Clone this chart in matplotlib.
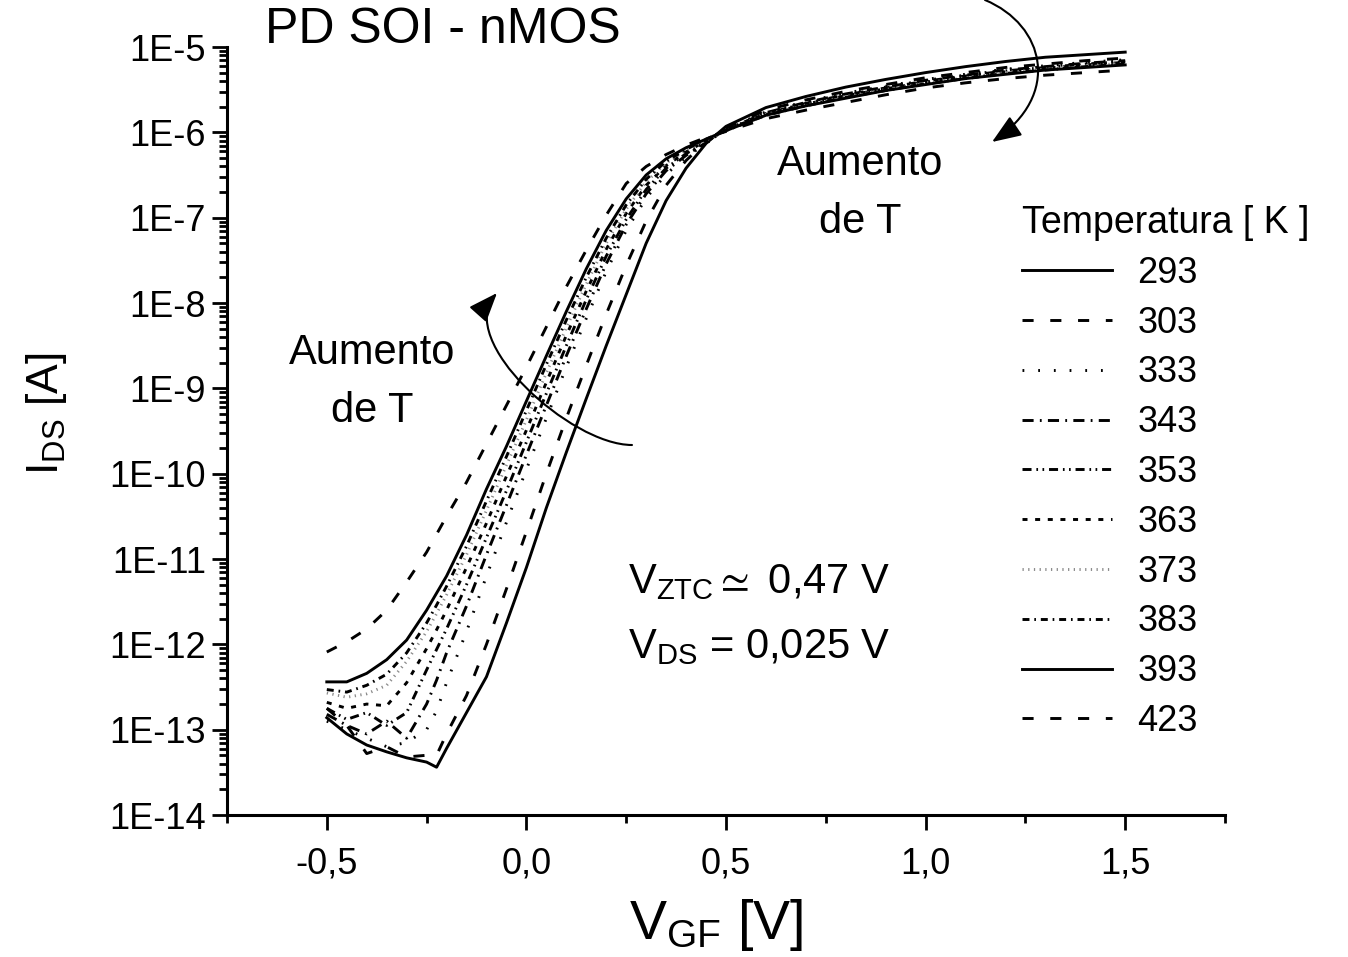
import numpy as np
import matplotlib
matplotlib.use("Agg")
import matplotlib.pyplot as plt
from matplotlib.patches import FancyArrowPatch
from matplotlib.path import Path
from matplotlib.ticker import FixedLocator, FixedFormatter, LogLocator, NullFormatter

plt.rcParams["font.family"] = ["Liberation Sans", "DejaVu Sans"]
plt.rcParams["mathtext.fontset"] = "custom"
plt.rcParams["mathtext.rm"] = "Liberation Sans"
plt.rcParams["mathtext.it"] = "Liberation Sans:italic"
plt.rcParams["mathtext.bf"] = "Liberation Sans:bold"
plt.rcParams["lines.scale_dashes"] = False

# Gate voltage sweep [V]
vgf = [-0.5, -0.45, -0.4, -0.35, -0.3, -0.25, -0.225, -0.2, -0.15, -0.1, -0.05,
       0.0, 0.05, 0.1, 0.15, 0.2, 0.25, 0.3, 0.35, 0.4, 0.45, 0.5,
       0.6, 0.7, 0.8, 0.9, 1.0, 1.1, 1.2, 1.3, 1.4, 1.5]

temperatures = [293, 303, 333, 343, 353, 363, 373, 383, 393, 423]

# log10 of the drain current I_DS [A] for each temperature
log_ids_293 = [-12.86, -13.05, -13.18, -13.26, -13.33, -13.38, -13.44, -13.22, -12.8, -12.38, -11.75,
               -11.1, -10.4, -9.75, -9.12, -8.5, -7.9, -7.3, -6.8, -6.42, -6.13, -5.93,
               -5.71, -5.58, -5.47, -5.38, -5.30, -5.23, -5.17, -5.12, -5.09, -5.06]
log_ids_303 = [-12.75, -12.95, -13.28, -13.2, -13.32, -13.3, -13.3, -13.05, -12.6, -12.0, -11.35,
               -10.68, -10.0, -9.35, -8.73, -8.13, -7.56, -7.04, -6.62, -6.33, -6.11, -5.95,
               -5.74, -5.62, -5.52, -5.44, -5.36, -5.30, -5.24, -5.20, -5.16, -5.13]
log_ids_333 = [-12.9, -13.0, -13.1, -13.2, -13.15, -13.0, -12.78, -12.45, -11.85, -11.2, -10.57,
               -9.95, -9.35, -8.75, -8.18, -7.63, -7.15, -6.77, -6.49, -6.29, -6.13, -5.96,
               -5.76, -5.64, -5.54, -5.46, -5.38, -5.32, -5.26, -5.22, -5.18, -5.15]
log_ids_343 = [-12.82, -12.95, -13.05, -12.9, -13.1, -12.7, -12.42, -12.1, -11.55, -10.95, -10.37,
               -9.78, -9.2, -8.62, -8.07, -7.54, -7.08, -6.72, -6.45, -6.27, -6.12, -5.97,
               -5.77, -5.65, -5.55, -5.47, -5.39, -5.33, -5.27, -5.23, -5.19, -5.16]
log_ids_353 = [-12.75, -12.88, -12.8, -12.95, -12.8, -12.3, -12.06, -11.82, -11.3, -10.75, -10.2,
               -9.63, -9.06, -8.5, -7.96, -7.45, -7.02, -6.67, -6.42, -6.25, -6.11, -5.97,
               -5.78, -5.66, -5.56, -5.48, -5.40, -5.34, -5.28, -5.24, -5.20, -5.17]
log_ids_363 = [-12.68, -12.75, -12.7, -12.72, -12.45, -12.05, -11.83, -11.6, -11.1, -10.58, -10.03,
               -9.49, -8.93, -8.38, -7.86, -7.37, -6.95, -6.62, -6.39, -6.23, -6.10, -5.97,
               -5.79, -5.67, -5.57, -5.49, -5.41, -5.35, -5.29, -5.25, -5.21, -5.18]
log_ids_373 = [-12.57, -12.62, -12.58, -12.48, -12.2, -11.85, -11.64, -11.42, -10.95, -10.43, -9.9,
               -9.37, -8.82, -8.29, -7.78, -7.3, -6.9, -6.58, -6.36, -6.21, -6.09, -5.98,
               -5.79, -5.68, -5.58, -5.50, -5.42, -5.36, -5.30, -5.26, -5.22, -5.19]
log_ids_383 = [-12.53, -12.56, -12.48, -12.35, -12.1, -11.75, -11.54, -11.32, -10.85, -10.32, -9.8,
               -9.26, -8.72, -8.2, -7.7, -7.24, -6.85, -6.55, -6.34, -6.2, -6.08, -5.98,
               -5.80, -5.69, -5.59, -5.51, -5.43, -5.37, -5.31, -5.27, -5.23, -5.20]
log_ids_393 = [-12.44, -12.44, -12.34, -12.18, -11.95, -11.6, -11.4, -11.2, -10.72, -10.18, -9.68,
               -9.15, -8.62, -8.1, -7.6, -7.15, -6.78, -6.5, -6.31, -6.18, -6.08, -5.98,
               -5.80, -5.69, -5.60, -5.51, -5.44, -5.37, -5.32, -5.27, -5.24, -5.21]
log_ids_423 = [-12.09, -11.97, -11.82, -11.6, -11.27, -10.92, -10.71, -10.5, -10.1, -9.65, -9.2,
               -8.75, -8.28, -7.81, -7.38, -6.97, -6.6, -6.4, -6.26, -6.15, -6.06, -5.99,
               -5.84, -5.74, -5.65, -5.56, -5.48, -5.42, -5.37, -5.33, -5.30, -5.27]

curves = [log_ids_293, log_ids_303, log_ids_333, log_ids_343, log_ids_353,
          log_ids_363, log_ids_373, log_ids_383, log_ids_393, log_ids_423]

# Line style per temperature (dash patterns in points)
styles = {
    293: dict(color="black", dashes=None),
    303: dict(color="black", dashes=(8, 12)),
    333: dict(color="black", dashes=(1.3, 10)),
    343: dict(color="black", dashes=(8, 4.5, 1.3, 4.5)),
    353: dict(color="black", dashes=(6.5, 3.5, 1.2, 3.2, 1.2, 3.5)),
    363: dict(color="black", dashes=(3.6, 5.5)),
    373: dict(color="#8a8a8a", dashes=(0.9, 3.2)),
    383: dict(color="black", dashes=(5, 3.5, 1.2, 3.5)),
    393: dict(color="black", dashes=None),
    423: dict(color="black", dashes=(8, 12)),
}

xtick_values = [-0.5, 0.0, 0.5, 1.0, 1.5]
xtick_labels = ["-0,5", "0,0", "0,5", "1,0", "1,5"]
ytick_values = [10.0 ** k for k in range(-14, -4)]
ytick_labels = ["1E%d" % k for k in range(-14, -4)]

W, H = 1348, 957
fig = plt.figure(figsize=(W / 100, H / 100), dpi=100)
ax = fig.add_axes([227 / W, 1 - 815 / H, (1225 - 227) / W, (815 - 47) / H])

v = np.array(vgf)
for t, logi in zip(temperatures, curves):
    st = styles[t]
    line, = ax.plot(v, 10.0 ** np.array(logi), color=st["color"], lw=2.1,
                    label=str(t), solid_joinstyle="round")
    if st["dashes"] is not None:
        line.set_dashes(st["dashes"])
        line.set_dash_capstyle("butt")

ax.set_yscale("log")
ax.set_xlim(-0.75, 1.75)
ax.set_ylim(1e-14, 1e-5)

ax.xaxis.set_major_locator(FixedLocator(xtick_values))
ax.xaxis.set_major_formatter(FixedFormatter(xtick_labels))
ax.xaxis.set_minor_locator(FixedLocator([-0.75, -0.25, 0.25, 0.75, 1.25, 1.75]))
ax.yaxis.set_major_locator(FixedLocator(ytick_values))
ax.yaxis.set_major_formatter(FixedFormatter(ytick_labels))
ax.yaxis.set_minor_locator(LogLocator(base=10, subs=np.arange(2, 10), numticks=20))
ax.yaxis.set_minor_formatter(NullFormatter())

for s in ("top", "right"):
    ax.spines[s].set_visible(False)
for s in ("left", "bottom"):
    ax.spines[s].set_linewidth(2.2)

ax.tick_params(axis="both", which="major", direction="out", length=11, width=2.0,
               labelsize=26)
ax.tick_params(axis="both", which="minor", direction="out", length=5.5, width=2.0)
ax.tick_params(axis="x", which="major", pad=12)
ax.tick_params(axis="y", which="major", pad=4)

ax.set_xlabel(r"$\mathregular{V_{GF}}$ [V]", fontsize=40, va="center")
ax.set_ylabel(r"$\mathregular{I_{DS}}$ [A]", fontsize=32, va="center")
ax.xaxis.set_label_coords((716 - 227) / 998, (815 - 925) / 768)
ax.yaxis.set_label_coords((46 - 227) / 998, (815 - 414) / 768)

leg = ax.legend(title="Temperatura [ K ]", loc="upper left",
                bbox_to_anchor=(1022 / W, 1 - 205 / H), bbox_transform=fig.transFigure,
                frameon=False, fontsize=26, title_fontsize=27, handlelength=2.5,
                handletextpad=0.7, labelspacing=0.41, borderpad=0, borderaxespad=0,
                alignment="left")

fig.text(265 / W, 1 - 43 / H, "PD SOI - nMOS", fontsize=36, ha="left", va="baseline")
fig.text(372 / W, 1 - 382 / H, "Aumento\nde T", fontsize=30, ha="center", va="center",
         multialignment="center", linespacing=1.55)
fig.text(860 / W, 1 - 193 / H, "Aumento\nde T", fontsize=30, ha="center", va="center",
         multialignment="center", linespacing=1.55)
fig.text(628 / W, 1 - 593 / H, r"$\mathregular{V_{ZTC}\simeq}$ 0,47 V", fontsize=30,
         ha="left", va="baseline")
fig.text(628 / W, 1 - 658 / H, r"$\mathregular{V_{DS}}$ = 0,025 V", fontsize=30,
         ha="left", va="baseline")


def curved_arrow(points):
    """Cubic Bezier arrow given four (x, y) points in pixels from the top-left corner."""
    verts = [(x / W, 1 - y / H) for x, y in points]
    codes = [Path.MOVETO, Path.CURVE4, Path.CURVE4, Path.CURVE4]
    patch = FancyArrowPatch(path=Path(verts, codes), transform=fig.transFigure,
                            arrowstyle="-|>,head_length=0.9,head_width=0.35",
                            mutation_scale=20, color="black", lw=1.5,
                            shrinkA=0, shrinkB=0)
    fig.add_artist(patch)


curved_arrow([(632, 445), (570, 445), (455, 340), (497, 293)])
curved_arrow([(985, 0), (1045, 25), (1062, 95), (992, 142)])

fig.savefig("out.png", dpi=100)
